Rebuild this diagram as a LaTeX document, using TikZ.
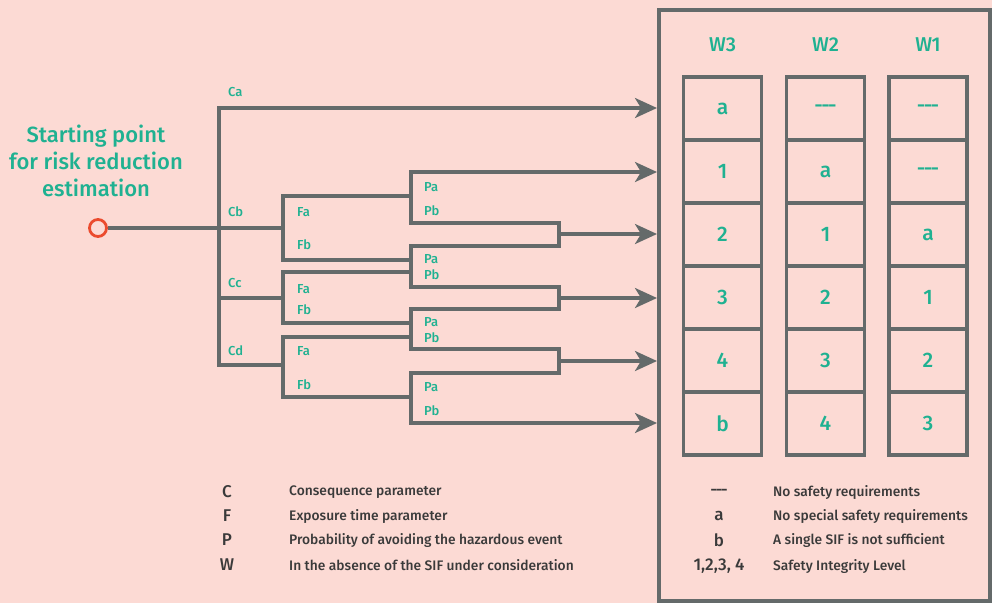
\documentclass[tikz,border=0pt]{standalone}
\usepackage{fontspec}
\setmainfont{Fira Sans}[BoldFont={Fira Sans Medium}]
\usetikzlibrary{arrows.meta}
\definecolor{bg}{HTML}{FCDAD4}
\definecolor{ln}{HTML}{646A6A}
\definecolor{tl}{HTML}{1FB191}
\definecolor{rd}{HTML}{EB4B2E}
\definecolor{dk}{HTML}{3A3A3A}
\newcommand{\nodash}{-\kern-1.6pt-\kern-1.6pt-}
\begin{document}
\begin{tikzpicture}[x=1pt,y=-1pt,
  wire/.style={draw=ln, line width=3.2pt},
  tipstyle/.tip={Stealth[length=22pt,width=20pt,inset=6pt]},
  arr/.style={wire, -tipstyle},
  lbl/.style={text=tl, font=\fontsize{13}{15}\selectfont\bfseries, anchor=west, inner sep=0pt},
  cell/.style={draw=ln, line width=3.2pt, minimum width=78pt, minimum height=63pt, text=tl, font=\fontsize{21}{25}\selectfont\bfseries, inner sep=0pt},
  head/.style={text=tl, font=\fontsize{20}{24}\selectfont\bfseries, inner sep=0pt},
  legkey/.style={text=dk, font=\fontsize{17}{20}\selectfont\bfseries, inner sep=0pt},
  legtxt/.style={text=dk, font=\fontsize{13.8}{16}\selectfont\bfseries, anchor=west, inner sep=0pt}]
\fill[bg] (0,0) rectangle (992,603);
\useasboundingbox (0,0) rectangle (992,603);

% outer table box
\node[draw=ln, line width=3.2pt, minimum width=331pt, minimum height=591pt, inner sep=0pt] (box) at (824.5,305.5) {};

% headers
\node[head] (hw3) at (722.5,45) {W3};
\node[head] (hw2) at (825.5,45) {W2};
\node[head] (hw1) at (928,45) {W1};

% cells
\foreach \r/\y/\a/\b/\c in {1/108.5/a/\nodash/\nodash, 2/171.5/1/a/\nodash, 3/234.5/2/1/a, 4/297.5/3/2/1, 5/360.5/4/3/2, 6/423.5/b/4/3}{
  \node[cell] (c3\r) at (722.5,\y) {\a};
  \node[cell] (c2\r) at (825.5,\y) {\b};
  \node[cell] (c1\r) at (928,\y) {\c};
}

% start point
\node[text=tl, font=\fontsize{22}{27}\selectfont\bfseries, align=center, inner sep=0pt] (title) at (96,161) {Starting point\\for risk reduction\\estimation};
\node[circle, draw=rd, line width=2.8pt, fill=bg, minimum size=17pt, inner sep=0pt] (S) at (98,228) {};

% coordinates
\coordinate (E1) at (657,108);
\coordinate (E2) at (657,172);
\coordinate (E3) at (657,234);
\coordinate (E4) at (657,298);
\coordinate (E5) at (657,361);
\coordinate (E6) at (657,423);
\coordinate (Ttop) at (219,108);
\coordinate (Tbot) at (219,365);
\coordinate (TC) at (219,298);
\coordinate (CB) at (283,228);
\coordinate (CC) at (283,298);
\coordinate (CD) at (283,365);
\coordinate (M1) at (559,234);
\coordinate (M2) at (559,298);
\coordinate (M3) at (559,361);

% C trunk and Ca branch
\draw[arr] (CD) -- (Tbot) -- (Ttop) -- (E1);
\draw[wire] (S.east) -- (CB);
\draw[wire] (TC) -- (CC);

% F brackets
\draw[wire] (411,196) -- (283,196) -- (283,260) -- (411,260);
\draw[wire] (411,272) -- (283,272) -- (283,323) -- (411,323);
\draw[wire] (411,337) -- (283,337) -- (283,397) -- (411,397);

% P brackets and merges
\draw[wire, tipstyle-tipstyle] (E2) -- (411,172) -- (411,223) -- (559,223) -- (559,246) -- (411,246)
  -- (411,287) -- (559,287) -- (559,309) -- (411,309) -- (411,349) -- (559,349) -- (559,373)
  -- (411,373) -- (411,423) -- (E6);
\draw[arr] (M1) -- (E3);
\draw[arr] (M2) -- (E4);
\draw[arr] (M3) -- (E5);

% labels
\node[lbl] (lca) at (228,92) {Ca};
\node[lbl] (lcb) at (228,212) {Cb};
\node[lbl] (lcc) at (228,283) {Cc};
\node[lbl] (lcd) at (228,351) {Cd};
\node[lbl] (lfa1) at (297,212) {Fa};
\node[lbl] (lfb1) at (297,245) {Fb};
\node[lbl] (lfa2) at (297,289) {Fa};
\node[lbl] (lfb2) at (297,310) {Fb};
\node[lbl] (lfa3) at (297,351) {Fa};
\node[lbl] (lfb3) at (297,385) {Fb};
\node[lbl] (lpa1) at (424,187) {Pa};
\node[lbl] (lpb1) at (424,211) {Pb};
\node[lbl] (lpa2) at (424,259) {Pa};
\node[lbl] (lpb2) at (424,275) {Pb};
\node[lbl] (lpa3) at (424,322) {Pa};
\node[lbl] (lpb3) at (424,338) {Pb};
\node[lbl] (lpa4) at (424,387) {Pa};
\node[lbl] (lpb4) at (424,411) {Pb};

% legend left
\node[legkey] (kC) at (227,492) {C};
\node[legkey] (kF) at (227,516) {F};
\node[legkey] (kP) at (227,540) {P};
\node[legkey] (kW) at (227,565) {W};
\node[legtxt] (tC) at (289,492) {Consequence parameter};
\node[legtxt] (tF) at (289,516) {Exposure time parameter};
\node[legtxt] (tP) at (289,540) {Probability of avoiding the hazardous event};
\node[legtxt] (tW) at (289,565) {In the absence of the SIF under consideration};

% legend right
\node[legkey] (k1) at (719,492) {\nodash};
\node[legkey] (k2) at (719,516) {a};
\node[legkey] (k3) at (719,540) {b};
\node[legkey] (k4) at (719,566) {1,2,3, 4};
\node[legtxt] (t1) at (773,492) {No safety requirements};
\node[legtxt] (t2) at (773,516) {No special safety requirements};
\node[legtxt] (t3) at (773,540) {A single SIF is not sufficient};
\node[legtxt] (t4) at (773,566) {Safety Integrity Level};
\end{tikzpicture}
\end{document}
